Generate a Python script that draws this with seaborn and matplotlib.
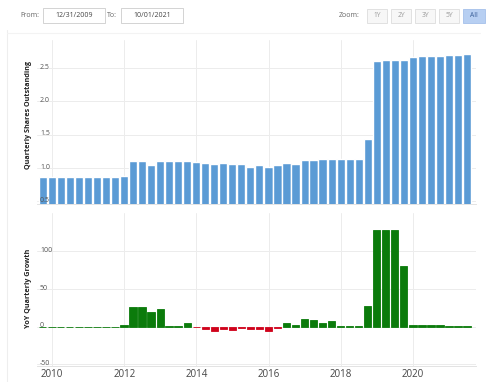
import matplotlib
matplotlib.use("Agg")
import matplotlib.pyplot as plt
import matplotlib.transforms as mtrans
import seaborn as sns
import pandas as pd
import numpy as np
from matplotlib.patches import Rectangle
from matplotlib.lines import Line2D

# ---------------- data ----------------
quarter_end = [
    "2009-09-30", "2009-12-31", "2010-03-31", "2010-06-30", "2010-09-30", "2010-12-31",
    "2011-03-31", "2011-06-30", "2011-09-30", "2011-12-31", "2012-03-31", "2012-06-30",
    "2012-09-30", "2012-12-31", "2013-03-31", "2013-06-30", "2013-09-30", "2013-12-31",
    "2014-03-31", "2014-06-30", "2014-09-30", "2014-12-31", "2015-03-31", "2015-06-30",
    "2015-09-30", "2015-12-31", "2016-03-31", "2016-06-30", "2016-09-30", "2016-12-31",
    "2017-03-31", "2017-06-30", "2017-09-30", "2017-12-31", "2018-03-31", "2018-06-30",
    "2018-09-30", "2018-12-31", "2019-03-31", "2019-06-30", "2019-09-30", "2019-12-31",
    "2020-03-31", "2020-06-30", "2020-09-30", "2020-12-31", "2021-03-31", "2021-06-30",
]
shares = [
    0.87, 0.87, 0.87, 0.87, 0.87, 0.87, 0.87, 0.87, 0.87, 0.885, 1.10, 1.10,
    1.045, 1.10, 1.10, 1.10, 1.10, 1.095, 1.08, 1.055, 1.08, 1.055, 1.055, 1.02,
    1.045, 1.02, 1.04, 1.08, 1.055, 1.12, 1.12, 1.13, 1.13, 1.135, 1.13, 1.13,
    1.435, 2.605, 2.62, 2.62, 2.62, 2.67, 2.68, 2.68, 2.68, 2.69, 2.70, 2.71,
]
growth = [
    0.4, 0.4, 0.4, 0.4, 0.4, 0.4, 0.4, 0.4, 0.4, 2.0, 25.7, 25.7,
    20.0, 24.0, 0.5, 0.5, 5.7, -0.5, -3.5, -5.5, -3.5, -4.0, -1.0, -3.5,
    -3.5, -5.0, -1.0, 4.4, 2.0, 9.7, 8.4, 4.9, 7.5, 1.0, 1.0, 1.0,
    27.5, 128.0, 128.0, 128.0, 81.0, 3.0, 3.0, 3.0, 3.0, 1.0, 1.0, 1.0,
]
year_ticks = [2010, 2012, 2014, 2016, 2018, 2020]
top_ticks = [0.5, 1.0, 1.5, 2.0, 2.5]
top_tick_labels = ["0.5", "1.0", "1.5", "2.0", "2.5"]
bottom_ticks = [-50, 0, 50, 100]
bottom_tick_labels = ["-50", "0", "50", "100"]

d = pd.to_datetime(quarter_end)
xnum = d.year + (d.dayofyear - 1) / np.where(d.is_leap_year, 366, 365)
df = pd.DataFrame({"x": xnum, "shares": shares, "growth": growth})
df["sign"] = np.where(df["growth"] < 0, "neg", "pos")

# ---------------- style ----------------
sns.set_theme(style="white")
plt.rcParams["font.family"] = ["Open Sans", "DejaVu Sans"]

W, H = 500, 382
fig = plt.figure(figsize=(W / 100, H / 100), dpi=100)
fig.patch.set_facecolor("white")

def fx(px):
    return px / W

def fy(py):
    return 1 - py / H

left_px, right_px = 37, 476
ax1 = fig.add_axes([fx(left_px), fy(204), (right_px - left_px) / W, 164 / H])
ax2 = fig.add_axes([fx(left_px), fy(366), (right_px - left_px) / W, 153 / H])

sns.barplot(data=df, x="x", y="shares", native_scale=True, width=0.92,
            color="#5b9bd5", saturation=1, errorbar=None, ax=ax1)
sns.barplot(data=df, x="x", y="growth", hue="sign",
            palette={"pos": "#0b7b0b", "neg": "#d0021b"},
            native_scale=True, width=0.83, dodge=False, saturation=1,
            errorbar=None, legend=False, ax=ax2)
for p in ax2.patches:
    p.set_edgecolor(p.get_facecolor())
    p.set_linewidth(0.6)

x_left = 2010 - 15 / 36.1
x_right = 2010 + 424 / 36.1
for ax in (ax1, ax2):
    ax.set_xlim(x_left, x_right)
    ax.set_xticks(year_ticks)
    ax.grid(True, color="#ececec", lw=0.7)
    ax.set_axisbelow(True)
    for s in ax.spines.values():
        s.set_visible(False)
    ax.set_xlabel("")
    ax.tick_params(axis="both", length=0)
    ax.spines["bottom"].set_visible(True)
    ax.spines["bottom"].set_color("#e3e3e3")
    ax.spines["bottom"].set_linewidth(0.7)

ax1.set_ylim(0.4625, 2.92)
ax1.set_yticks(top_ticks)
ax1.set_yticklabels([])
ax1.set_xticklabels([])

ax2.set_ylim(-52, 151)
ax2.set_yticks(bottom_ticks)
ax2.set_yticklabels([])
ax2.set_xticklabels([str(y) for y in year_ticks], fontsize=7, color="#444444")
ax2.tick_params(axis="x", pad=2.5)

# y tick labels drawn inside the plot, above the bars
for ax, ticks, labels in ((ax1, top_ticks, top_tick_labels),
                          (ax2, bottom_ticks, bottom_tick_labels)):
    tr = mtrans.blended_transform_factory(ax.transAxes, ax.transData)
    off = mtrans.offset_copy(tr, fig=fig, x=3, y=1, units="dots")
    for v, lab in zip(ticks, labels):
        ax.text(0, v, lab, transform=off, fontsize=5, color="#555555",
                ha="left", va="center", zorder=6)

ax1.set_ylabel("Quarterly Shares Outstanding", fontsize=5.2, fontweight="bold",
               color="#222222", va="center")
ax1.yaxis.set_label_coords((28.5 - left_px) / (right_px - left_px), (204 - 115) / 164)
ax2.set_ylabel("YoY Quarterly Growth", fontsize=5.2, fontweight="bold",
               color="#222222", va="center")
ax2.yaxis.set_label_coords((28.5 - left_px) / (right_px - left_px), (366 - 288) / 153)

# ---------------- header controls ----------------
def box(x0, y0, x1, y1, fc="white", ec="#cccccc"):
    fig.add_artist(Rectangle((fx(x0), fy(y1)), (x1 - x0) / W, (y1 - y0) / H,
                             transform=fig.transFigure, facecolor=fc,
                             edgecolor=ec, lw=0.6))

hdr_y = fy(15.5)
fig.text(fx(20), hdr_y, "From:", fontsize=5, color="#666666", va="center", ha="left")
box(43, 8, 105, 23)
fig.text(fx(74), hdr_y, "12/31/2009", fontsize=5, color="#444444", va="center", ha="center")
fig.text(fx(107), hdr_y, "To:", fontsize=5, color="#666666", va="center", ha="left")
box(121, 8, 183, 23)
fig.text(fx(152), hdr_y, "10/01/2021", fontsize=5, color="#444444", va="center", ha="center")

fig.text(fx(339), hdr_y, "Zoom:", fontsize=5, color="#666666", va="center", ha="left")
for (x0, x1, lab) in [(367, 387, "1Y"), (391, 411, "2Y"), (415, 435, "3Y"),
                      (439, 459, "5Y"), (463, 485, "All")]:
    active = lab == "All"
    box(x0, 9, x1, 23, fc="#b7cff2" if active else "#f7f7f7",
        ec="#a5c0ea" if active else "#dddddd")
    fig.text(fx((x0 + x1) / 2), hdr_y, lab, fontsize=4.8,
             color="#3a5f99" if active else "#999999", va="center", ha="center")

fig.add_artist(Line2D([fx(7), fx(7)], [fy(30), fy(382)], transform=fig.transFigure,
                      color="#eeeeee", lw=0.8))
fig.add_artist(Line2D([fx(7), fx(480)], [fy(33), fy(33)], transform=fig.transFigure,
                      color="#f3f3f3", lw=0.8))

fig.savefig("out.png", dpi=100)
